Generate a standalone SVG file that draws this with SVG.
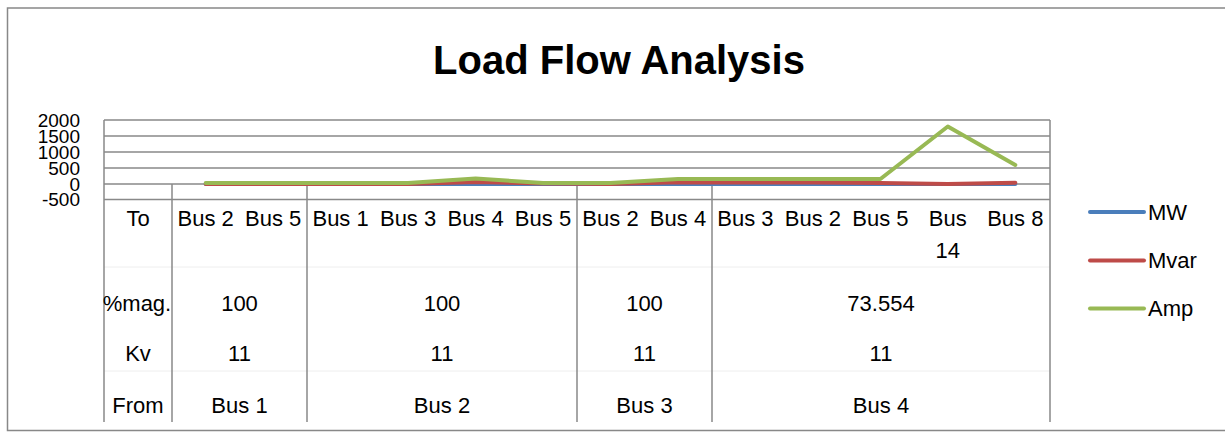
<svg xmlns="http://www.w3.org/2000/svg" width="1225" height="432" viewBox="0 0 1225 432">
<style>
.t{font-family:"Liberation Sans",Arial,sans-serif;font-size:22px;fill:#000;text-anchor:middle;dominant-baseline:central}
.ax{font-family:"Liberation Sans",Arial,sans-serif;font-size:19px;fill:#000;text-anchor:end;dominant-baseline:central}
.lg{font-family:"Liberation Sans",Arial,sans-serif;font-size:22px;fill:#000;text-anchor:start;dominant-baseline:central}
.g{stroke:#898989;stroke-width:1.5;fill:none}
.f{stroke:#eeeeee;stroke-width:1;fill:none}
.s{fill:none;stroke-width:4;stroke-linecap:round;stroke-linejoin:round}
</style>
<rect x="0" y="0" width="1225" height="432" fill="#fff"/>
<path d="M1226 8 H7.5 V430.5 H1226" fill="none" stroke="#888" stroke-width="1.5"/>
<text x="619" y="60" style="font-family:'Liberation Sans',Arial,sans-serif;font-size:40px;font-weight:bold;text-anchor:middle;dominant-baseline:central">Load Flow Analysis</text>
<g id="axis">
<path class="g" d="M104 120 H1050 M104 136 H1050 M104 152 H1050 M104 168 H1050 M104 184 H1050 M104 199.5 H1050"/>
<text class="ax" x="80" y="120">2000</text>
<text class="ax" x="80" y="136">1500</text>
<text class="ax" x="80" y="152">1000</text>
<text class="ax" x="80" y="168">500</text>
<text class="ax" x="80" y="184">0</text>
<text class="ax" x="80" y="199">-500</text>
</g>
<g id="table">
<path class="f" d="M104 267 H1050 M104 371 H1050"/>
<path class="g" d="M104 120 V422 M172 184 V422 M307 184 V422 M577 184 V422 M712 184 V422 M1050 120 V422"/>
<text class="t" x="138" y="218">To</text>
<text class="t" x="205.7" y="218">Bus 2</text>
<text class="t" x="273.2" y="218">Bus 5</text>
<text class="t" x="340.6" y="218">Bus 1</text>
<text class="t" x="408.1" y="218">Bus 3</text>
<text class="t" x="475.6" y="218">Bus 4</text>
<text class="t" x="543" y="218">Bus 5</text>
<text class="t" x="610.5" y="218">Bus 2</text>
<text class="t" x="678" y="218">Bus 4</text>
<text class="t" x="745.4" y="218">Bus 3</text>
<text class="t" x="812.9" y="218">Bus 2</text>
<text class="t" x="880.4" y="218">Bus 5</text>
<text class="t" x="947.8" y="218">Bus</text>
<text class="t" x="947.8" y="250">14</text>
<text class="t" x="1015.3" y="218">Bus 8</text>
<text class="t" x="137" y="303">%mag.</text>
<text class="t" x="239.5" y="303">100</text>
<text class="t" x="442" y="303">100</text>
<text class="t" x="644.5" y="303">100</text>
<text class="t" x="881" y="303">73.554</text>
<text class="t" x="138" y="353">Kv</text>
<text class="t" x="239.5" y="353">11</text>
<text class="t" x="442" y="353">11</text>
<text class="t" x="644.5" y="353">11</text>
<text class="t" x="881" y="353">11</text>
<text class="t" x="138" y="405">From</text>
<text class="t" x="239.5" y="405">Bus 1</text>
<text class="t" x="442" y="405">Bus 2</text>
<text class="t" x="644.5" y="405">Bus 3</text>
<text class="t" x="881" y="405">Bus 4</text>
</g>
<g id="series">
<polyline class="s" stroke="#4a7ebb" points="205.7,184 273.2,184 340.6,184 408.1,184 475.6,184 543,184 610.5,184 678,184 745.4,184 812.9,184 880.4,184 947.8,184 1015.3,184"/>
<polyline class="s" stroke="#be4b48" points="205.7,184 273.2,184 340.6,184 408.1,184 475.6,182 543,183.5 610.5,184 678,182.3 745.4,182.5 812.9,182.5 880.4,183 947.8,184 1015.3,182.7"/>
<polyline class="s" stroke="#98b954" points="205.7,183 273.2,183 340.6,183 408.1,183 475.6,178.5 543,183 610.5,183 678,179 745.4,179 812.9,179 880.4,179 947.8,126.5 1015.3,165"/>
</g>
<g id="legend">
<line class="s" stroke="#4a7ebb" x1="1090" y1="212" x2="1144" y2="212"/>
<text class="lg" x="1148" y="212">MW</text>
<line class="s" stroke="#be4b48" x1="1090" y1="260.5" x2="1144" y2="260.5"/>
<text class="lg" x="1148" y="260.5">Mvar</text>
<line class="s" stroke="#98b954" x1="1090" y1="308.5" x2="1144" y2="308.5"/>
<text class="lg" x="1148" y="308.5">Amp</text>
</g>
</svg>
